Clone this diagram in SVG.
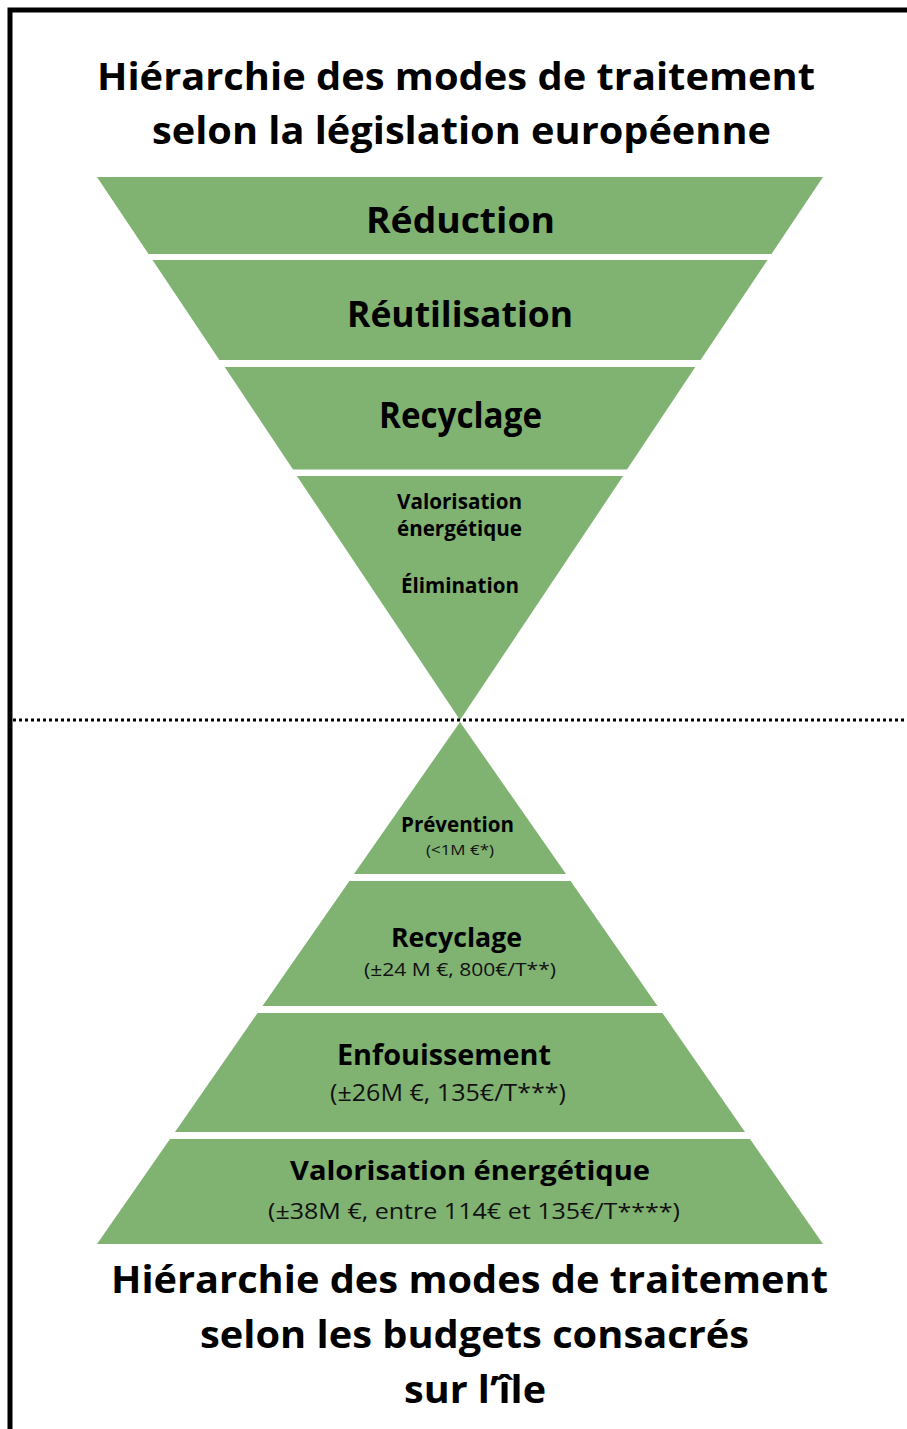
<svg xmlns="http://www.w3.org/2000/svg" width="907" height="1429" viewBox="0 0 907 1429">
<style>
.band{fill:#80b272}
.t{font-family:"Open Sans","DejaVu Sans",sans-serif;font-weight:bold;fill:#000;text-anchor:middle}
.s{font-family:"Open Sans","DejaVu Sans",sans-serif;font-weight:normal;fill:#111;text-anchor:middle}
</style>
<rect x="0" y="0" width="907" height="1429" fill="#fff"/>
<path d="M10 1429 V10 H907" fill="none" stroke="#000" stroke-width="5"/>
<g id="title-top">
<text class="t" x="456" y="90" font-size="37" textLength="718" lengthAdjust="spacingAndGlyphs">Hiérarchie des modes de traitement</text>
<text class="t" x="461.5" y="144" font-size="37" textLength="619" lengthAdjust="spacingAndGlyphs">selon la législation européenne</text>
</g>
<g id="reduction">
<polygon class="band" points="97,177 823,177 771.5,254 148.5,254"/>
<text class="t" x="460.5" y="233" font-size="35" textLength="189" lengthAdjust="spacingAndGlyphs">Réduction</text>
</g>
<g id="reutilisation">
<polygon class="band" points="152.5,260 767.5,260 700.6,360 219.4,360"/>
<text class="t" x="460" y="327" font-size="35" textLength="226" lengthAdjust="spacingAndGlyphs">Réutilisation</text>
</g>
<g id="recyclage-eu">
<polygon class="band" points="224.7,367 695.3,367 627,469.5 293,469.5"/>
<text class="t" x="460.5" y="428" font-size="35" textLength="163" lengthAdjust="spacingAndGlyphs">Recyclage</text>
</g>
<g id="valorisation-elimination">
<polygon class="band" points="296.9,476 623.1,476 460,720"/>
<text class="t" x="459.5" y="509" font-size="21" textLength="125" lengthAdjust="spacingAndGlyphs">Valorisation</text>
<text class="t" x="459.5" y="536" font-size="21" textLength="125" lengthAdjust="spacingAndGlyphs">énergétique</text>
<text class="t" x="460" y="593" font-size="21" textLength="118" lengthAdjust="spacingAndGlyphs">Élimination</text>
</g>
<g id="prevention">
<polygon class="band" points="460,722 566,874 354,874"/>
<text class="t" x="457.5" y="832" font-size="21" textLength="113" lengthAdjust="spacingAndGlyphs">Prévention</text>
<text class="s" x="460" y="855" font-size="14" textLength="68" lengthAdjust="spacingAndGlyphs">(&lt;1M €*)</text>
</g>
<g id="recyclage-ile">
<polygon class="band" points="349.4,881 570.6,881 657.5,1006 262.5,1006"/>
<text class="t" x="456.5" y="947" font-size="27" textLength="131" lengthAdjust="spacingAndGlyphs">Recyclage</text>
<text class="s" x="460" y="976" font-size="19" textLength="192" lengthAdjust="spacingAndGlyphs">(±24 M €, 800€/T**)</text>
</g>
<g id="enfouissement">
<polygon class="band" points="257.6,1013 662.4,1013 745,1132 175,1132"/>
<text class="t" x="444" y="1065" font-size="28" textLength="214" lengthAdjust="spacingAndGlyphs">Enfouissement</text>
<text class="s" x="448" y="1101" font-size="23" textLength="236" lengthAdjust="spacingAndGlyphs">(±26M €, 135€/T***)</text>
</g>
<g id="valorisation-ile">
<polygon class="band" points="170,1139 750,1139 823,1244 97,1244"/>
<text class="t" x="470" y="1180" font-size="27" textLength="360" lengthAdjust="spacingAndGlyphs">Valorisation énergétique</text>
<text class="s" x="474" y="1219" font-size="22" textLength="412" lengthAdjust="spacingAndGlyphs">(±38M €, entre 114€ et 135€/T****)</text>
</g>
<g id="connectors">
<line x1="13" y1="720" x2="907" y2="720" stroke="#000" stroke-width="3" stroke-dasharray="3 3"/>
</g>
<g id="title-bottom">
<text class="t" x="469.5" y="1293" font-size="37" textLength="717" lengthAdjust="spacingAndGlyphs">Hiérarchie des modes de traitement</text>
<text class="t" x="474.5" y="1348" font-size="37" textLength="549" lengthAdjust="spacingAndGlyphs">selon les budgets consacrés</text>
<text class="t" x="475" y="1403" font-size="37" textLength="142" lengthAdjust="spacingAndGlyphs">sur l’île</text>
</g>
</svg>
